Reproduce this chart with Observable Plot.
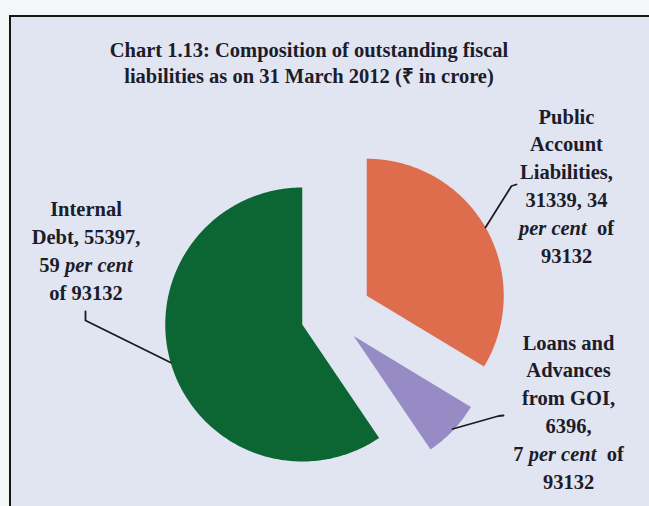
<!DOCTYPE html>
<html>
<head>
<meta charset="utf-8">
<script src="https://cdn.jsdelivr.net/npm/d3@7"></script>
<script src="https://cdn.jsdelivr.net/npm/@observablehq/plot@0.6"></script>
<style>
  html, body { margin: 0; padding: 0; width: 649px; height: 506px; overflow: hidden; background: #f5f6f8; }
  #frame { position: absolute; left: 9px; top: 15px; width: 700px; height: 600px;
           border-left: 2px solid #151515; border-top: 2px solid #151515; background: #e1e5f1; }
  #title { position: absolute; left: 0; top: 37px; width: 618px; text-align: center;
           font-family: "Liberation Serif", "Times New Roman", serif; font-weight: bold;
           font-size: 20.5px; line-height: 26px; color: #1c1c2a; }
  #chart { position: absolute; left: 0; top: 0; }
</style>
</head>
<body>
<div id="frame"></div>
<div id="chart"></div>
<div id="title">Chart 1.13: Composition of outstanding fiscal<br>liabilities as on 31 March 2012 (₹ in crore)</div>
<script>
// ---- data ----
const names = ["Public Account Liabilities", "Loans and Advances from GOI", "Internal Debt"];
const values = [31339, 6396, 55397];
const percents = [34, 7, 59];
const total = 93132;
const colors = ["#de6d4e", "#978bc5", "#0b6633"];
const labelLines = [
  ["Public", "Account", "Liabilities,", `${values[0]}, ${percents[0]}`, "per cent  of", `${total}`],
  ["Loans and", "Advances", "from GOI,", `${values[1]},`, `${percents[1]} per cent  of`, `${total}`],
  ["Internal", `Debt, ${values[2]},`, `${percents[2]} per cent`, `of ${total}`]
];

// ---- layout (pixel-like units through identity scales) ----
const W = 649, H = 506;
const pie = {cx: 331.4, cy: 314.9, r: 137};
const explode = [40, 30, 31];
const labelPos = [{x: 566, y: 262}, {x: 568, y: 488}, {x: 85.5, y: 299}];
const leaders = [
  [[516, 184], [511, 185.5], [485, 227]],
  [[503, 415], [498, 415.5], [452, 428.5]],
  [[85, 311], [85, 320], [170, 362]]
];

// ---- build slices ----
const arcs = d3.pie().sort(null).startAngle(0).endAngle(2 * Math.PI)(values);
const slicePts = [];
arcs.forEach((a, i) => {
  const mid = (a.startAngle + a.endAngle) / 2;
  const ox = pie.cx + explode[i] * Math.sin(mid);
  const oy = pie.cy - explode[i] * Math.cos(mid);
  slicePts.push({name: names[i], x: ox, y: oy});
  const steps = Math.max(8, Math.ceil((a.endAngle - a.startAngle) / (Math.PI / 180)));
  for (let k = 0; k <= steps; k++) {
    const t = a.startAngle + (a.endAngle - a.startAngle) * k / steps;
    slicePts.push({name: names[i], x: ox + pie.r * Math.sin(t), y: oy - pie.r * Math.cos(t)});
  }
  slicePts.push({name: names[i], x: ox, y: oy});
});

const leaderPts = leaders.flatMap((pts, i) => pts.map(([x, y]) => ({name: names[i], x, y})));
const labels = names.map((n, i) => ({name: n, text: labelLines[i].join("\n"), x: labelPos[i].x, y: labelPos[i].y}));

const fontSize = 20.5;
const plot = Plot.plot({
  width: W, height: H,
  margin: 0,
  style: {background: "transparent", overflow: "visible"},
  x: {domain: [0, W], range: [0, W], axis: null},
  y: {domain: [H, 0], range: [H, 0], axis: null},
  color: {domain: names, range: colors, legend: false},
  marks: [
    Plot.line(slicePts, {x: "x", y: "y", z: "name", fill: "name", stroke: "none", curve: "linear"}),
    Plot.line(leaderPts, {x: "x", y: "y", z: "name", stroke: "#1a1a1a", strokeWidth: 1.8, curve: "linear"}),
    Plot.text(labels, {x: "x", y: "y", text: "text", textAnchor: "middle", lineAnchor: "bottom",
      lineHeight: 27.8 / fontSize, fontSize, fontWeight: "bold",
      fontFamily: "'Liberation Serif', 'Times New Roman', serif", fill: "#1c1c2a"})
  ]
});
document.getElementById("chart").appendChild(plot);

// italicise "per cent" inside label lines
plot.querySelectorAll("text").forEach(t => {
  const targets = t.querySelectorAll("tspan").length ? Array.from(t.querySelectorAll("tspan")) : [t];
  targets.forEach(el => {
    const s = el.textContent;
    if (!s.includes("per cent")) return;
    el.textContent = "";
    s.split(/(per cent)/).forEach(part => {
      if (!part) return;
      const sp = document.createElementNS("http://www.w3.org/2000/svg", "tspan");
      if (part === "per cent") sp.setAttribute("font-style", "italic");
      sp.textContent = part;
      el.appendChild(sp);
    });
  });
});
</script>
</body>
</html>
